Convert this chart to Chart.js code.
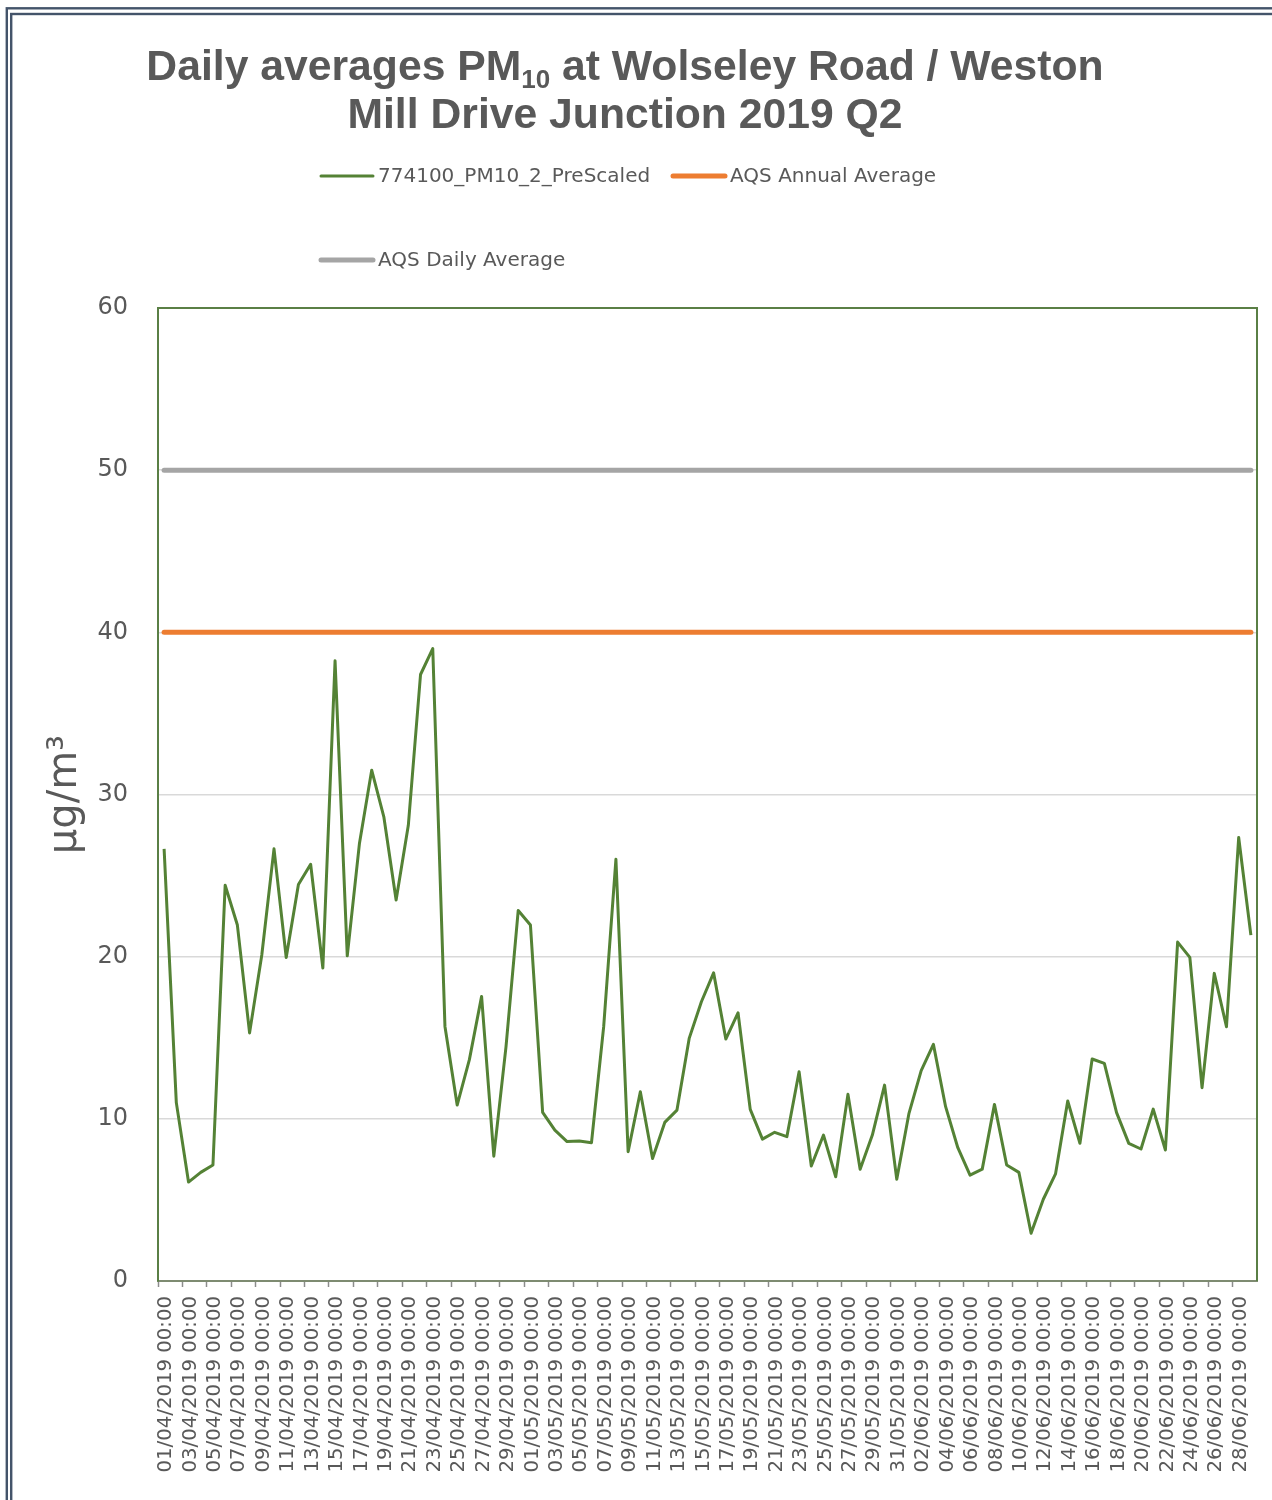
<!DOCTYPE html>
<html>
<head>
<meta charset="utf-8">
<title>Daily averages PM10 – Wolseley Road / Weston Mill Drive Junction 2019 Q2</title>
<script src="https://cdn.jsdelivr.net/npm/chart.js@4.4.0/dist/chart.umd.min.js"></script>
<style>
  html, body { margin: 0; padding: 0; background: #ffffff; }
  #wrap { width: 1272px; height: 1500px; position: relative; }
  canvas { display: block; }
</style>
</head>
<body>
<div id="wrap"><canvas id="chart" width="1272" height="1500"></canvas></div>
<script>
// Measurement days (category axis)
const dates = [
  '01/04/2019 00:00','02/04/2019 00:00','03/04/2019 00:00','04/04/2019 00:00','05/04/2019 00:00',
  '06/04/2019 00:00','07/04/2019 00:00','08/04/2019 00:00','09/04/2019 00:00','10/04/2019 00:00',
  '11/04/2019 00:00','12/04/2019 00:00','13/04/2019 00:00','14/04/2019 00:00','15/04/2019 00:00',
  '16/04/2019 00:00','17/04/2019 00:00','18/04/2019 00:00','19/04/2019 00:00','20/04/2019 00:00',
  '21/04/2019 00:00','22/04/2019 00:00','23/04/2019 00:00','24/04/2019 00:00','25/04/2019 00:00',
  '26/04/2019 00:00','27/04/2019 00:00','28/04/2019 00:00','29/04/2019 00:00','30/04/2019 00:00',
  '01/05/2019 00:00','02/05/2019 00:00','03/05/2019 00:00','04/05/2019 00:00','05/05/2019 00:00',
  '06/05/2019 00:00','07/05/2019 00:00','08/05/2019 00:00','09/05/2019 00:00','10/05/2019 00:00',
  '11/05/2019 00:00','12/05/2019 00:00','13/05/2019 00:00','14/05/2019 00:00','15/05/2019 00:00',
  '16/05/2019 00:00','17/05/2019 00:00','18/05/2019 00:00','19/05/2019 00:00','20/05/2019 00:00',
  '21/05/2019 00:00','22/05/2019 00:00','23/05/2019 00:00','24/05/2019 00:00','25/05/2019 00:00',
  '26/05/2019 00:00','27/05/2019 00:00','28/05/2019 00:00','29/05/2019 00:00','30/05/2019 00:00',
  '31/05/2019 00:00','01/06/2019 00:00','02/06/2019 00:00','03/06/2019 00:00','04/06/2019 00:00',
  '05/06/2019 00:00','06/06/2019 00:00','07/06/2019 00:00','08/06/2019 00:00','09/06/2019 00:00',
  '10/06/2019 00:00','11/06/2019 00:00','12/06/2019 00:00','13/06/2019 00:00','14/06/2019 00:00',
  '15/06/2019 00:00','16/06/2019 00:00','17/06/2019 00:00','18/06/2019 00:00','19/06/2019 00:00',
  '20/06/2019 00:00','21/06/2019 00:00','22/06/2019 00:00','23/06/2019 00:00','24/06/2019 00:00',
  '25/06/2019 00:00','26/06/2019 00:00','27/06/2019 00:00','28/06/2019 00:00','29/06/2019 00:00'
];

// Daily mean PM10 (µg/m³), site 774100
const pm10 = [
  26.65, 11.0, 6.1, 6.7, 7.15, 24.4, 21.95, 15.3, 20.1, 26.65,
  19.95, 24.45, 25.7, 19.3, 38.25, 20.05, 27.0, 31.5, 28.6, 23.5,
  28.1, 37.4, 39.0, 15.7, 10.85, 13.65, 17.55, 7.7, 14.45, 22.85,
  21.95, 10.4, 9.3, 8.6, 8.63, 8.53, 15.7, 26.0, 7.97, 11.67,
  7.56, 9.78, 10.54, 14.96, 17.22, 19.0, 14.92, 16.54, 10.58, 8.75,
  9.17, 8.9, 12.9, 7.09, 9.0, 6.43, 11.51, 6.89, 9.0, 12.08,
  6.27, 10.34, 12.97, 14.59, 10.75, 8.22, 6.53, 6.9, 10.89, 7.15,
  6.7, 2.94, 5.04, 6.6, 11.1, 8.49, 13.69, 13.42, 10.38, 8.49,
  8.14, 10.6, 8.08, 20.9, 19.96, 11.92, 18.97, 15.68, 27.35, 21.33
];

// Air Quality Strategy objectives (µg/m³)
const aqsAnnualAverage = 40;
const aqsDailyAverage = 50;

// Value axis
const yTickValues = [0, 10, 20, 30, 40, 50, 60];

const seriesNames = ['774100_PM10_2_PreScaled', 'AQS Annual Average', 'AQS Daily Average'];

const TEXT = '#595959';
const SANS = '"DejaVu Sans", Verdana, sans-serif';
const TITLE_FONT = '"Liberation Sans", Arial, sans-serif';

// Frame, heading and legend drawn around the plot
const decor = {
  id: 'decor',
  beforeDraw(chart) {
    const ctx = chart.ctx;
    ctx.save();
    ctx.fillStyle = '#ffffff';
    ctx.fillRect(0, 0, chart.width, chart.height);
    ctx.strokeStyle = '#44546A';
    ctx.lineWidth = 2.4;
    ctx.strokeRect(6.8, 8.3, chart.width + 200, chart.height + 200);
    ctx.strokeRect(11.2, 14.0, chart.width + 200, chart.height + 200);
    ctx.restore();
  },
  beforeDatasetsDraw(chart) {
    const ctx = chart.ctx;
    const { left, top, right, bottom } = chart.chartArea;
    ctx.save();
    ctx.strokeStyle = '#5A7F45';
    ctx.lineWidth = 2;
    ctx.beginPath();
    ctx.moveTo(left, top);
    ctx.lineTo(right, top);
    ctx.lineTo(right, bottom);
    ctx.stroke();
    ctx.restore();
  },
  afterDraw(chart, args, opts) {
    const ctx = chart.ctx;
    ctx.save();

    // Heading with subscript
    ctx.fillStyle = TEXT;
    ctx.textBaseline = 'alphabetic';
    ctx.textAlign = 'left';
    const big = 'bold 42.7px ' + TITLE_FONT;
    const small = 'bold 26px ' + TITLE_FONT;
    const p1 = 'Daily averages PM', sub = '10', p2 = ' at Wolseley Road / Weston';
    ctx.font = big;
    const w1 = ctx.measureText(p1).width, w3 = ctx.measureText(p2).width;
    ctx.font = small;
    const w2 = ctx.measureText(sub).width;
    let x = opts.titleCenter - (w1 + w2 + w3) / 2;
    ctx.font = big; ctx.fillText(p1, x, 80); x += w1;
    ctx.font = small; ctx.fillText(sub, x, 88); x += w2;
    ctx.font = big; ctx.fillText(p2, x, 80);
    ctx.textAlign = 'center';
    ctx.fillText('Mill Drive Junction 2019 Q2', opts.titleCenter, 128);

    // Legend
    ctx.font = '20px ' + SANS;
    ctx.textAlign = 'left';
    ctx.textBaseline = 'middle';
    chart.data.datasets.forEach((ds, i) => {
      const pos = opts.legendSlots[i];
      ctx.strokeStyle = ds.borderColor;
      ctx.lineWidth = ds.borderWidth;
      ctx.lineCap = 'round';
      ctx.beginPath();
      ctx.moveTo(pos.x, pos.y);
      ctx.lineTo(pos.x + 52, pos.y);
      ctx.stroke();
      ctx.fillStyle = TEXT;
      ctx.fillText(ds.label, pos.x + 57, pos.y + 1);
    });
    ctx.restore();
  }
};

const PLOT_LEFT = 158, PLOT_BOTTOM = 1281;

new Chart(document.getElementById('chart'), {
  type: 'line',
  data: {
    labels: dates,
    datasets: [
      {
        label: seriesNames[0],
        data: pm10,
        borderColor: '#548235',
        borderWidth: 3,
        pointRadius: 0,
        tension: 0,
        borderJoinStyle: 'round'
      },
      {
        label: seriesNames[1],
        data: dates.map(() => aqsAnnualAverage),
        borderColor: '#ED7D31',
        borderWidth: 5,
        borderCapStyle: 'round',
        pointRadius: 0
      },
      {
        label: seriesNames[2],
        data: dates.map(() => aqsDailyAverage),
        borderColor: '#A5A5A5',
        borderWidth: 5,
        borderCapStyle: 'round',
        pointRadius: 0
      }
    ]
  },
  options: {
    responsive: false,
    animation: false,
    devicePixelRatio: 1,
    layout: { padding: { top: 308, right: 15, left: 0, bottom: 0 } },
    plugins: {
      legend: { display: false },
      title: { display: false },
      tooltip: { enabled: false },
      decor: {
        titleCenter: 625,
        legendSlots: [ { x: 321, y: 176 }, { x: 673, y: 176 }, { x: 321, y: 260 } ]
      }
    },
    scales: {
      x: {
        type: 'category',
        offset: true,
        grid: {
          offset: true,
          drawOnChartArea: false,
          drawTicks: true,
          tickLength: 6,
          tickWidth: 1.5,
          tickColor: (c) => (c.index % 2 === 0 ? '#8C8C8C' : 'rgba(0,0,0,0)')
        },
        border: { display: true, color: '#7E8B71', width: 2 },
        ticks: {
          autoSkip: false,
          minRotation: 90,
          maxRotation: 90,
          padding: 9,
          labelOffset: 2,
          color: TEXT,
          font: { family: SANS, size: 19.7 },
          callback: function (v, i) { return i % 2 === 0 ? this.getLabelForValue(v) : ''; }
        },
        afterFit(scale) {
          scale.height = 1500 - PLOT_BOTTOM;
          scale.paddingLeft = 0;
          scale.paddingRight = 0;
        }
      },
      y: {
        min: 0,
        max: 60,
        afterBuildTicks(scale) { scale.ticks = yTickValues.map(v => ({ value: v })); },
        grid: {
          drawTicks: false,
          lineWidth: 1.5,
          color: (c) => (c.tick && (c.tick.value === 0 || c.tick.value === 60) ? 'rgba(0,0,0,0)' : '#D9D9D9')
        },
        border: { display: true, color: '#5A7F45', width: 2 },
        ticks: {
          padding: 30,
          color: TEXT,
          font: { family: SANS, size: 24 }
        },
        title: {
          display: true,
          text: 'µg/m³',
          color: TEXT,
          font: { family: SANS, size: 40 },
          padding: { top: 42, bottom: 0 }
        },
        afterFit(scale) {
          scale.width = PLOT_LEFT;
          scale.paddingTop = 0;
          scale.paddingBottom = 0;
        }
      }
    }
  },
  plugins: [decor]
});
</script>
</body>
</html>
